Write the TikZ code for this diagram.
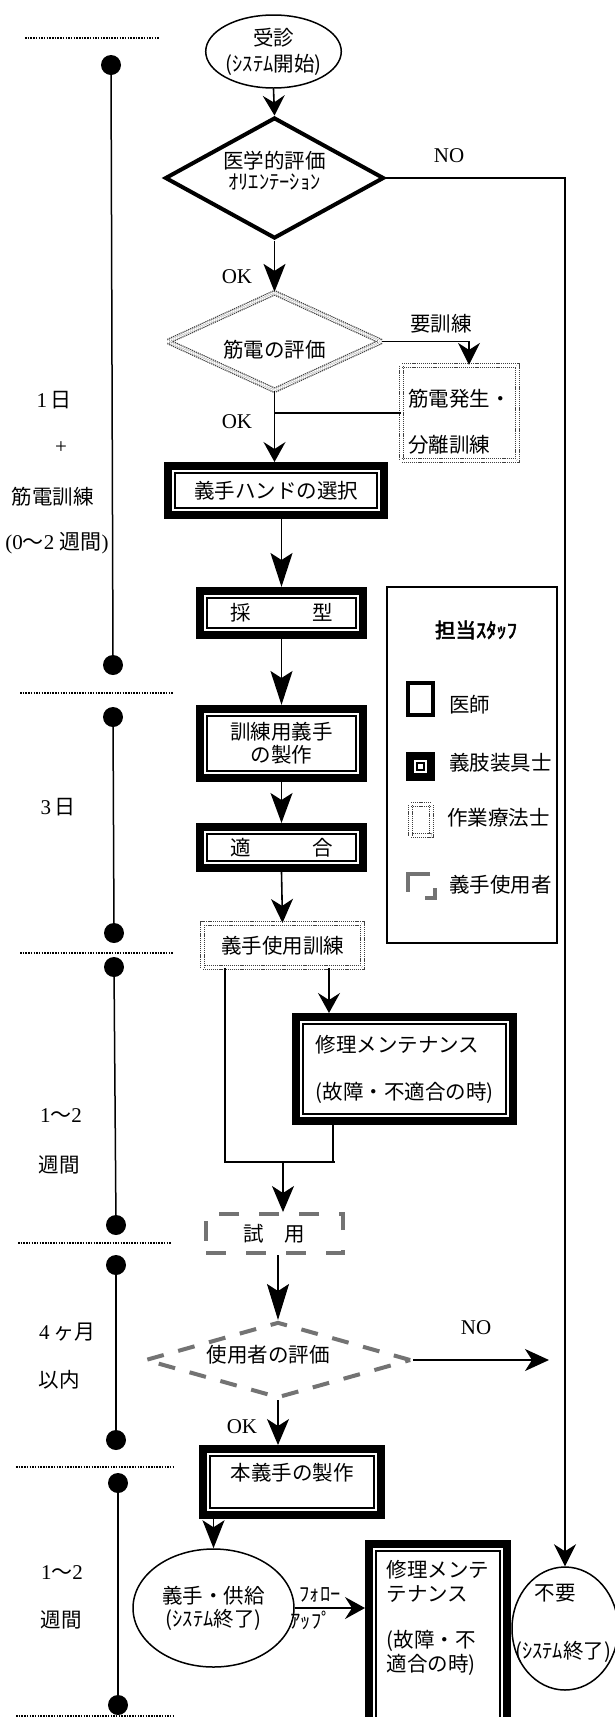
\documentclass[tikz,border=0pt]{standalone}
\usepackage{fontspec}
\setmainfont{Liberation Serif}
\newfontfamily\jp{Noto Sans CJK JP}
\newfontfamily\jpbold[FakeBold=2.5]{Noto Sans CJK JP}
\usetikzlibrary{shapes.geometric,arrows.meta}

\tikzset{
	jtext/.style={font=\fontsize{20.5}{24}\selectfont\jp, inner sep=0pt},
	ltext/.style={font=\fontsize{21}{24}\selectfont, inner sep=0pt},
	conn/.style={line width=1.6pt},
	arr/.style={conn, -{Stealth[length=#1, width=22pt, inset=7pt]}},
	arr/.default=30pt,
	docbox/.style={draw, line width=4pt},
	prosbox/.style={draw, line width=8pt, path picture={\draw[line width=1.2pt] ([shift={(7pt,7pt)}]path picture bounding box.south west) rectangle ([shift={(-7pt,-7pt)}]path picture bounding box.north east);}},
	otbox/.style={draw=black!75, line width=1.2pt, dash pattern=on 1.2pt off 0.9pt, double=white, double distance=3pt},
	userbox/.style={draw=black!55, line width=4pt, dash pattern=on 20pt off 20pt},
	termin/.style={ellipse, draw, line width=1.5pt, inner sep=0pt},
	tdot/.style={circle, fill, inner sep=0pt, minimum size=20pt},
	tline/.style={line width=1.5pt},
	sepline/.style={line width=1.8pt, dash pattern=on 1.5pt off 1.2pt},
}

\begin{document}
\begin{tikzpicture}[x=1pt, y=-1pt]
			%%%%% START %%%%%
			\fill[white] (0,0) rectangle (615,1717);
			\useasboundingbox (0,0) rectangle (615,1717);
			
			% time line on the left
			\draw[sepline] (25,38) -- (159,38);
			\node[tdot] (d1) at (111,65) {};
			\node[tdot] (d2) at (113,665) {};
			\draw[tline] (d1) -- (d2);
			\draw[sepline] (20,693) -- (173,693);
			\node[tdot] (d3) at (113,717) {};
			\node[tdot] (d4) at (114,933) {};
			\draw[tline] (d3) -- (d4);
			\draw[sepline] (20,953) -- (173,953);
			\node[tdot] (d5) at (114,967) {};
			\node[tdot] (d6) at (116,1225) {};
			\draw[tline] (d5) -- (d6);
			\draw[sepline] (18,1243) -- (171,1243);
			\node[tdot] (d7) at (116,1265) {};
			\node[tdot] (d8) at (116,1440) {};
			\draw[tline] (d7) -- (d8);
			\draw[sepline] (16,1467) -- (173,1467);
			\node[tdot] (d9) at (118,1483) {};
			\node[tdot] (d10) at (118,1705) {};
			\draw[tline] (d9) -- (d10);
			\draw[sepline] (16,1716) -- (173,1716);
			
			\node[ltext] (day1) at (54,400) {1\,{\jp 日}};
			\node[ltext] (plus) at (61,448) {+};
			\node[jtext] (emgdays) at (53,497) {筋電訓練};
			\node[ltext] (weeks02) at (57,543) {(0{\jp ～}2 {\jp 週間})};
			\node[ltext] (day3) at (58,807) {3\,{\jp 日}};
			\node[ltext] (wk12a) at (61,1116) {1{\jp ～}2};
			\node[jtext] (wk12b) at (59,1165) {週間};
			\node[ltext] (month4) at (67,1332) {4\,{\jp ヶ月}};
			\node[jtext] (within) at (59,1380) {以内};
			\node[ltext] (wk12c) at (62,1573) {1{\jp ～}2};
			\node[jtext] (wk12d) at (61,1620) {週間};
			
			% flow
			\node[termin, jtext, align=center, minimum width=135pt, minimum height=73pt] (visit) at (273.5,51.5) {受診\\[2pt](ｼｽﾃﾑ開始)};
			\node[diamond, docbox, jtext, aspect=1.8, align=center, minimum width=219pt, minimum height=121pt] (med) at (274.5,178) {医学的評価\\[-3pt]ｵﾘｴﾝﾃｰｼｮﾝ\rule[-15pt]{0pt}{1pt}};
			\node[diamond, otbox, jtext, aspect=2.1, minimum width=214pt, minimum height=98pt] (emg) at (274.5,341.5) {\raisebox{-8pt}[\height][\depth]{筋電の評価}};
			\node[otbox, jtext, align=left, minimum width=116pt, minimum height=95pt] (emgtrain) at (459.5,413) {\rule{0pt}{34pt}筋電発生・\\[22pt]分離訓練};
			\node[prosbox, jtext, minimum width=216pt, minimum height=49pt] (hand) at (276,490.5) {義手ハンドの選択};
			\node[prosbox, jtext, minimum width=163pt, minimum height=44pt] (mold) at (281.5,613) {採　　　型};
			\node[prosbox, jtext, align=center, minimum width=163pt, minimum height=69pt] (trainhand) at (281.5,743.5) {訓練用義手\\[-1pt]の製作};
			\node[prosbox, jtext, minimum width=163pt, minimum height=41pt] (fit) at (281.5,847.5) {適　　　合};
			\node[otbox, jtext, minimum width=160pt, minimum height=44pt] (usetrain) at (282.5,945.5) {義手使用訓練};
			\node[prosbox, jtext, align=left, minimum width=217pt, minimum height=104pt] (repair) at (404.5,1069) {修理メンテナンス\\[23pt](故障・不適合の時)};
			\node[userbox, jtext, minimum width=137pt, minimum height=39pt] (trial) at (274.5,1233.5) {試　用};
			\node[diamond, draw=black!55, line width=4pt, dash pattern=on 17pt off 15pt, jtext, aspect=3.4, minimum width=266pt, minimum height=76pt] (usereval) at (278,1360) {\hspace*{-20pt}\raisebox{5pt}[\height][\depth]{使用者の評価}};
			\node[prosbox, jtext, minimum width=178pt, minimum height=66pt] (final) at (292,1482) {\raisebox{9pt}[\height][\depth]{本義手の製作}};
			\node[termin, jtext, align=center, minimum width=161pt, minimum height=118pt] (supply) at (213.5,1608) {義手・供給\\[-1pt](ｼｽﾃﾑ終了)};
			\node[prosbox, jtext, align=left, minimum width=138pt, minimum height=192pt] (repair2) at (438,1640) {修理メンテ\\テナンス\\[22pt](故障・不\\適合の時)\rule[-49pt]{0pt}{1pt}};
			\node[termin, minimum width=106pt, minimum height=123pt] (notneeded) at (565,1628.5) {};
			\node[jtext] (nntop) at (555,1593) {不要};
			\node[jtext] (nnbottom) at (563,1652) {(ｼｽﾃﾑ終了)};
			
			% connectors
			\draw[arr=20pt] (visit.south) -- (med.north);
			\draw[arr=22pt] (med.east) -| (notneeded.north);
			\node[ltext] (no1) at (449,156) {NO};
			\draw[arr=28pt] (med.south) -- (emg.north);
			\node[ltext] (ok1) at (237,277) {OK};
			\coordinate (emgin) at ([xshift=9.5pt]emgtrain.north);
			\draw[arr=22pt] (emg.east) -| (emgin);
			\node[jtext] (needtrain) at (441,324) {要訓練};
			\draw[conn] (emgtrain.west) -- (emgtrain.west -| emg.south);
			\draw[arr=20pt] (emg.south) -- (emg.south |- hand.north);
			\node[ltext] (ok2) at (237,422) {OK};
			\draw[arr=34pt] (mold.north |- hand.south) -- (mold.north);
			\draw[arr=34pt] (mold.south) -- (trainhand.north);
			\draw[arr=30pt] (trainhand.south) -- (fit.north);
			\draw[arr=24pt] (fit.south) -- (usetrain.north);
			
			\coordinate (joinL) at (225,1162);
			\coordinate (joinR) at (335,1162);
			\coordinate (join) at (283,1162);
			\coordinate (trainsplit) at ([xshift=46.5pt]usetrain.south);
			\coordinate (repairout) at ([xshift=-71.5pt]repair.south);
			\draw[conn] (usetrain.south -| joinL) -- (joinL) -- (joinR);
			\draw[arr=20pt] (trainsplit) -- (trainsplit |- repair.north);
			\draw[conn] (repairout) -- (repairout |- joinR);
			\draw[arr=26pt] (join) -- (join |- trial.north);
			\draw[arr=36pt] (trial.south -| usereval.north) -- (usereval.north);
			
			\coordinate (noend) at (549,1360);
			\draw[arr=24pt] (usereval.east) -- (noend);
			\node[ltext] (no2) at (476,1328) {NO};
			\draw[arr=26pt] (usereval.south) -- (usereval.south |- final.north);
			\node[ltext] (ok3) at (242,1427) {OK};
			\draw[arr=28pt] (supply.north |- final.south) -- (supply.north);
			\draw[arr=20pt] (supply.east) -- (supply.east -| repair2.west);
			\node[jtext] (follow) at (320,1595) {ﾌｫﾛｰ};
			\node[jtext] (followup) at (311,1620) {ｱｯﾌﾟ};
			
			% legend
			\draw[conn] (387,587) rectangle (557,943);
			\node[jtext, font=\fontsize{20.5}{24}\selectfont\jpbold] (stafftitle) at (476,630) {担当ｽﾀｯﾌ};
			\node[docbox, minimum width=25pt, minimum height=32pt] (docicon) at (420.5,699) {};
			\node[prosbox, minimum width=21pt, minimum height=21pt] (prosicon) at (420.5,766.5) {};
			\node[otbox, minimum width=21pt, minimum height=31pt] (oticon) at (421,820) {};
			\node[draw=black!55, line width=4pt, inner sep=0pt, minimum width=27pt, minimum height=24pt, dash pattern=on 20pt off 19pt on 40pt off 23pt, dash phase=85pt] (usericon) at (421.5,886) {};
			\node[jtext, anchor=west] (doctxt) at (449,705) {医師};
			\node[jtext, anchor=west] (prostxt) at (449,763) {義肢装具士};
			\node[jtext, anchor=west] (ottxt) at (447,818) {作業療法士};
			\node[jtext, anchor=west] (usertxt) at (449,885) {義手使用者};
			
			%%%%% END %%%%%
\end{tikzpicture}
\end{document}
